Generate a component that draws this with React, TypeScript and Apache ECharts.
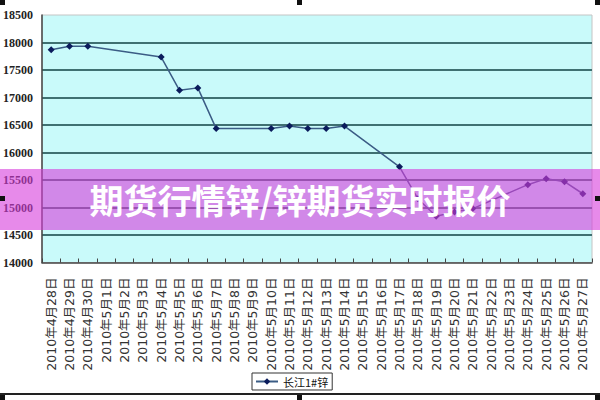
import React, { useEffect, useRef } from "react";
import * as echarts from "echarts";

const categories = [
  "2010年4月28日", "2010年4月29日", "2010年4月30日", "2010年5月1日", "2010年5月2日",
  "2010年5月3日", "2010年5月4日", "2010年5月5日", "2010年5月6日", "2010年5月7日",
  "2010年5月8日", "2010年5月9日", "2010年5月10日", "2010年5月11日", "2010年5月12日",
  "2010年5月13日", "2010年5月14日", "2010年5月15日", "2010年5月16日", "2010年5月17日",
  "2010年5月18日", "2010年5月19日", "2010年5月20日", "2010年5月21日", "2010年5月22日",
  "2010年5月23日", "2010年5月24日", "2010年5月25日", "2010年5月26日", "2010年5月27日",
];

const zincValues: (number | null)[] = [
  17870, 17930, 17930, null, null,
  null, 17735, 17130, 17175, 16435,
  null, null, 16435, 16480, 16435,
  16435, 16480, null, null, 15740,
  15160, 14840, 14920, 14980, null,
  null, 15415, 15525, 15470, 15250,
];

const seriesName = "长江1#锌";
const bannerText = "期货行情锌/锌期货实时报价";

export default function App() {
  const ref = useRef<HTMLDivElement>(null);
  useEffect(() => {
    if (!ref.current) return;
    const chart = echarts.init(ref.current, null, { renderer: "svg" });
    const handle = (x: number, y: number) => ({
      type: "rect",
      shape: { x, y, width: 5, height: 5 },
      style: { fill: "#111" },
      z: 110,
    });
    chart.setOption({
      animation: false,
      backgroundColor: "#ffffff",
      grid: {
        left: 42,
        right: 8,
        top: 15,
        bottom: 137.5,
        containLabel: false,
        outerBoundsMode: "none",
        show: true,
        backgroundColor: "#c9fafa",
        borderColor: "#c4c4c4",
        borderWidth: 1,
      },
      legend: {
        data: [seriesName],
        left: 252,
        top: 373,
        orient: "horizontal",
        borderColor: "#333",
        borderWidth: 1,
        padding: [3, 4, 3, 3],
        itemWidth: 22,
        itemHeight: 8,
        itemGap: 4,
        textStyle: { fontSize: 11, color: "#111", fontFamily: "Noto Sans CJK SC" },
      },
      xAxis: {
        type: "category",
        data: categories,
        boundaryGap: true,
        axisLine: { lineStyle: { color: "#444", width: 1.5 } },
        axisTick: { show: true, inside: true, length: 4, lineStyle: { color: "#444" } },
        axisLabel: {
          rotate: 90,
          interval: 0,
          margin: 15,
          fontSize: 12.5,
          color: "#333",
          fontFamily: "DejaVu Sans, Noto Sans CJK SC",
        },
        splitLine: { show: false },
      },
      yAxis: {
        type: "value",
        min: 14000,
        max: 18500,
        interval: 500,
        axisLine: { show: true, lineStyle: { color: "#444", width: 1.5 } },
        axisTick: { show: false },
        axisLabel: {
          fontSize: 12,
          color: "#222",
          fontWeight: "bold",
          fontFamily: "Liberation Serif",
          margin: 9,
          formatter: (v: number) => String(v),
        },
        splitLine: {
          show: true,
          showMaxLine: false,
          showMinLine: false,
          lineStyle: { color: "#3f7071", width: 2 },
        },
      },
      series: [
        {
          name: seriesName,
          type: "line",
          data: zincValues,
          connectNulls: true,
          symbol: "diamond",
          symbolSize: 7,
          lineStyle: { color: "#3b5c85", width: 1.5 },
          itemStyle: { color: "#0b1c5c" },
          z: 3,
        },
      ],
      graphic: [
        {
          type: "rect",
          shape: { x: 0, y: 169, width: 600, height: 61 },
          style: { fill: "rgba(215, 60, 220, 0.6)" },
          z: 100,
        },
        {
          type: "text",
          x: 300,
          y: 199,
          style: {
            text: bannerText,
            fill: "#ffffff",
            font: "bold 34px 'Noto Sans CJK SC'",
            align: "center",
            verticalAlign: "middle",
          },
          z: 101,
        },
        {
          type: "line",
          shape: { x1: 0, y1: 394, x2: 600, y2: 394 },
          style: { stroke: "#222", lineWidth: 2 },
          z: 105,
        },
        handle(0, 0),
        handle(297, 0),
        handle(595, 0),
        handle(0, 196),
        handle(595, 196),
        handle(0, 395),
        handle(297, 395),
        handle(595, 395),
      ],
    });
    return () => chart.dispose();
  }, []);
  return (
    <div
      ref={ref}
      style={{ position: "fixed", left: 0, top: 0, width: 600, height: 400 }}
    />
  );
}
